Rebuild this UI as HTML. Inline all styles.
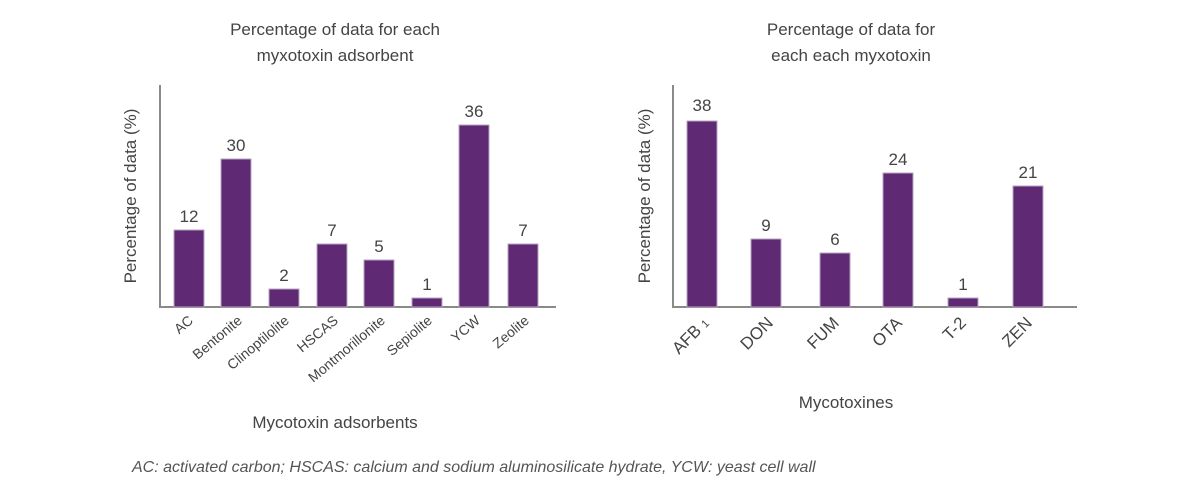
<!DOCTYPE html>
<html><head><meta charset="utf-8"><style>
body{margin:0;background:#fff;}
svg{display:block;font-family:"Liberation Sans",sans-serif;}
</style></head><body>
<svg width="1200" height="500" xmlns="http://www.w3.org/2000/svg">
<g fill="#444" font-size="17" text-anchor="middle">
<text x="335" y="35">Percentage of data for each</text>
<text x="335" y="61">myxotoxin adsorbent</text>
<text x="851" y="35">Percentage of data for</text>
<text x="851" y="61">each each myxotoxin</text>
<text x="335" y="428">Mycotoxin adsorbents</text>
<text x="846" y="408">Mycotoxines</text>
<text transform="translate(136,196) rotate(-90)">Percentage of data (%)</text>
<text transform="translate(650,196) rotate(-90)">Percentage of data (%)</text>
</g>
<g stroke="#8a8a8a" stroke-width="2" fill="none">
<path d="M160 85V307H556"/>
<path d="M673 85V307H1077"/>
</g>
<g fill="#5f2a73" stroke="#b9a3c2" stroke-width="1">
<rect x="174" y="230" width="30" height="77"/>
<rect x="221" y="159" width="30" height="148"/>
<rect x="269" y="289" width="30" height="18"/>
<rect x="317" y="244" width="30" height="63"/>
<rect x="364" y="260" width="30" height="47"/>
<rect x="412" y="298" width="30" height="9"/>
<rect x="459" y="125" width="30" height="182"/>
<rect x="508" y="244" width="30" height="63"/>
<rect x="687" y="121" width="30" height="186"/>
<rect x="751" y="239" width="30" height="68"/>
<rect x="820" y="253" width="30" height="54"/>
<rect x="883" y="173" width="30" height="134"/>
<rect x="948" y="298" width="30" height="9"/>
<rect x="1013" y="186" width="30" height="121"/>
</g>
<g fill="#444" font-size="17" text-anchor="middle">
<text x="189" y="222">12</text><text x="236" y="151">30</text><text x="284" y="281">2</text>
<text x="332" y="236">7</text><text x="379" y="252">5</text><text x="427" y="290">1</text>
<text x="474" y="117">36</text><text x="523" y="236">7</text>
<text x="702" y="111">38</text><text x="766" y="231">9</text><text x="835" y="245">6</text>
<text x="898" y="165">24</text><text x="963" y="290">1</text><text x="1028" y="178">21</text>
</g>
<g fill="#444" font-size="14" text-anchor="end">
<text transform="translate(194,322) rotate(-40)">AC</text>
<text transform="translate(243,322) rotate(-40)">Bentonite</text>
<text transform="translate(290,322) rotate(-40)">Clinoptilolite</text>
<text transform="translate(339,322) rotate(-40)">HSCAS</text>
<text transform="translate(386,322) rotate(-40)">Montmorillonite</text>
<text transform="translate(433,322) rotate(-40)">Sepiolite</text>
<text transform="translate(481,322) rotate(-40)">YCW</text>
<text transform="translate(530,322) rotate(-40)">Zeolite</text>
</g>
<g fill="#444" font-size="17" text-anchor="end">
<text transform="translate(710,324) rotate(-45)">AFB <tspan font-size="11">1</tspan></text>
<text transform="translate(774,324) rotate(-45)">DON</text>
<text transform="translate(840,324) rotate(-45)">FUM</text>
<text transform="translate(903,324) rotate(-45)">OTA</text>
<text transform="translate(967,324) rotate(-45)">T-2</text>
<text transform="translate(1033,324) rotate(-45)">ZEN</text>
</g>
<text x="132" y="472" fill="#555" font-size="16" font-style="italic">AC: activated carbon; HSCAS: calcium and sodium aluminosilicate hydrate, YCW: yeast cell wall</text>
</svg>
</body></html>
